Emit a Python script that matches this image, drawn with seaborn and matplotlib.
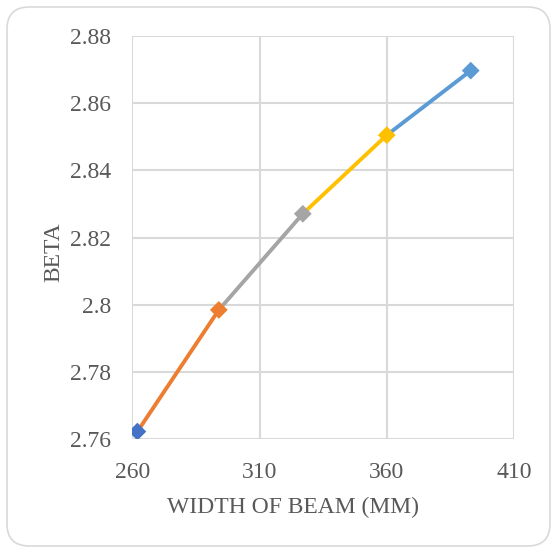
import matplotlib
matplotlib.use("Agg")
import matplotlib.pyplot as plt
from matplotlib.patches import FancyBboxPatch
import seaborn as sns
import pandas as pd

width_mm = [262, 294, 327, 360, 393]
beta = [2.7623, 2.7985, 2.8271, 2.8505, 2.8697]
marker_colors = ["#4472C4", "#ED7D31", "#A5A5A5", "#FFC000", "#5B9BD5"]
x_ticks = [260, 310, 360, 410]
y_ticks = [2.76, 2.78, 2.80, 2.82, 2.84, 2.86, 2.88]
y_tick_labels = ["2.76", "2.78", "2.8", "2.82", "2.84", "2.86", "2.88"]

sns.set_theme(style="white")
plt.rcParams["font.family"] = ["Liberation Serif", "DejaVu Serif"]

fig = plt.figure(figsize=(5.58, 5.53), dpi=100)
fig.patches.append(FancyBboxPatch((7 / 558, 7 / 553), 543 / 558, 539 / 553,
                                  boxstyle="round,pad=0,rounding_size=0.04",
                                  transform=fig.transFigure, facecolor="white",
                                  edgecolor="#D9D9D9", linewidth=1.2, zorder=-10))
ax = fig.add_axes([132.3 / 558, 1 - 439.3 / 553, (514 - 132.3) / 558, (439.3 - 36) / 553])
ax.set_facecolor("none")

# each segment joins a point to the next, coloured like the next point's marker
for i in range(len(width_mm) - 1):
    seg = pd.DataFrame({"w": width_mm[i:i + 2], "b": beta[i:i + 2]})
    sns.lineplot(data=seg, x="w", y="b", ax=ax, color=marker_colors[i + 1],
                 linewidth=2.8, zorder=3)
pts = pd.DataFrame({"w": width_mm, "b": beta, "c": marker_colors})
sns.scatterplot(data=pts, x="w", y="b", hue="c", palette=dict(zip(marker_colors, marker_colors)),
                marker="D", s=82, edgecolor="none", ax=ax, legend=False, zorder=4)

ax.set_xlim(260, 410)
ax.set_ylim(2.76, 2.88)
ax.set_xticks(x_ticks)
ax.set_yticks(y_ticks)
ax.set_yticklabels(y_tick_labels)
ax.grid(True, color="#D9D9D9", linewidth=1.5)
ax.set_axisbelow(True)
for s in ax.spines.values():
    s.set_visible(False)
ax.tick_params(axis="both", length=0, labelsize=17, colors="#595959")
ax.tick_params(axis="x", pad=16)
ax.tick_params(axis="y", pad=15)
ax.set_xlabel("WIDTH OF BEAM (MM)", fontsize=17, color="#595959", va="center")
ax.set_ylabel("BETA", fontsize=17, color="#595959", va="center")
ax.xaxis.set_label_coords(0.42, -0.168)
ax.yaxis.set_label_coords(-0.205, 0.463)

fig.savefig("out.png", dpi=100)
